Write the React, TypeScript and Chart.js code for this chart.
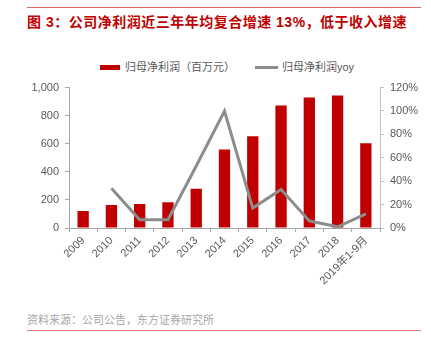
import React, { useEffect, useRef } from 'react';
import { Chart, registerables } from 'chart.js';

Chart.register(...registerables);

const categories = ['2009', '2010', '2011', '2012', '2013', '2014', '2015', '2016', '2017', '2018', '2019年1-9月'];
const profit = [121, 163, 171, 183, 280, 559, 654, 872, 929, 943, 604];
const yoy = [null, 34, 7, 7, 53, 100, 17, 33, 6, 1, 12];
const leftMax = 1000;
const leftStep = 200;
const rightMax = 120;
const rightStep = 20;

const barLabel = '归母净利润（百万元）';
const lineLabel = '归母净利润yoy';
const title = '图 3：公司净利润近三年年均复合增速 13%，低于收入增速';
const source = '资料来源：公司公告，东方证券研究所';

const FONT = '"Liberation Sans", Arial, "Noto Sans CJK SC", sans-serif';
const RED = '#C00000';
const GRAY_LINE = '#8C8C8C';
const TEXT = '#595959';

export default function App() {
  const ref = useRef<HTMLCanvasElement>(null);

  useEffect(() => {
    const tickFont = { family: FONT, size: 11 };
    const chart = new Chart(ref.current!, {
      data: {
        labels: categories,
        datasets: [
          {
            type: 'line',
            label: lineLabel,
            data: yoy as any,
            borderColor: GRAY_LINE,
            backgroundColor: GRAY_LINE,
            borderWidth: 3,
            pointRadius: 0,
            tension: 0,
            yAxisID: 'y1',
            order: 1,
          },
          {
            type: 'bar',
            label: barLabel,
            data: profit,
            backgroundColor: RED,
            barPercentage: 0.4,
            categoryPercentage: 1,
            yAxisID: 'y',
            order: 2,
          },
        ],
      } as any,
      options: {
        animation: false,
        responsive: false,
        maintainAspectRatio: false,
        layout: { padding: { top: 12, left: 0, right: 0, bottom: 0 } },
        plugins: { legend: { display: false }, tooltip: { enabled: false } },
        scales: {
          x: {
            offset: true,
            grid: { offset: true, drawOnChartArea: false, drawTicks: true, tickLength: 4, color: '#A6A6A6' },
            border: { color: '#A6A6A6' },
            ticks: { minRotation: 45, maxRotation: 45, autoSkip: false, font: tickFont, color: TEXT, padding: 2 },
            afterFit: (s: any) => { s.height = 72; },
          },
          y: {
            position: 'left',
            min: 0,
            max: leftMax,
            grid: { drawOnChartArea: false, drawTicks: true, tickLength: 4, color: '#A6A6A6' },
            border: { color: '#A6A6A6' },
            ticks: {
              stepSize: leftStep,
              font: tickFont,
              color: TEXT,
              padding: 6,
              callback: (v: any) => Number(v).toLocaleString('en-US'),
            },
            afterFit: (s: any) => { s.width = 69; },
          },
          y1: {
            position: 'right',
            min: 0,
            max: rightMax,
            grid: { drawOnChartArea: false, drawTicks: true, tickLength: 4, color: '#BFBFBF' },
            border: { color: '#BFBFBF' },
            ticks: {
              stepSize: rightStep,
              font: tickFont,
              color: TEXT,
              padding: 6,
              callback: (v: any) => v + '%',
            },
            afterFit: (s: any) => { s.width = 51; },
          },
        },
      } as any,
    });
    return () => chart.destroy();
  }, []);

  return (
    <div style={{ position: 'fixed', left: 0, top: 0, width: 431, height: 352, background: '#fff', fontFamily: FONT }}>
      <div style={{ position: 'absolute', left: 27, top: 7, width: 394, height: 1, background: '#E06666' }} />
      <div style={{ position: 'absolute', left: 27, top: 13, fontSize: 14, fontWeight: 'bold', color: RED, whiteSpace: 'nowrap', lineHeight: '18px', letterSpacing: '0.5px' }}>
        {title}
      </div>
      <div style={{ position: 'absolute', left: 100, top: 65, width: 20, height: 5, background: RED }} />
      <div style={{ position: 'absolute', left: 125, top: 60, fontSize: 11, color: TEXT, lineHeight: '14px', whiteSpace: 'nowrap' }}>{barLabel}</div>
      <div style={{ position: 'absolute', left: 255, top: 66, width: 23, height: 3, background: GRAY_LINE }} />
      <div style={{ position: 'absolute', left: 282, top: 60, fontSize: 11, color: TEXT, lineHeight: '14px', whiteSpace: 'nowrap' }}>{lineLabel}</div>
      <canvas ref={ref} width={431} height={225} style={{ position: 'absolute', left: 0, top: 75, width: 431, height: 225 }} />
      <div style={{ position: 'absolute', left: 27, top: 313, fontSize: 11, color: '#A6A6A6', lineHeight: '14px', whiteSpace: 'nowrap' }}>{source}</div>
      <div style={{ position: 'absolute', left: 27, top: 330, width: 394, height: 1, background: '#E88080' }} />
    </div>
  );
}
